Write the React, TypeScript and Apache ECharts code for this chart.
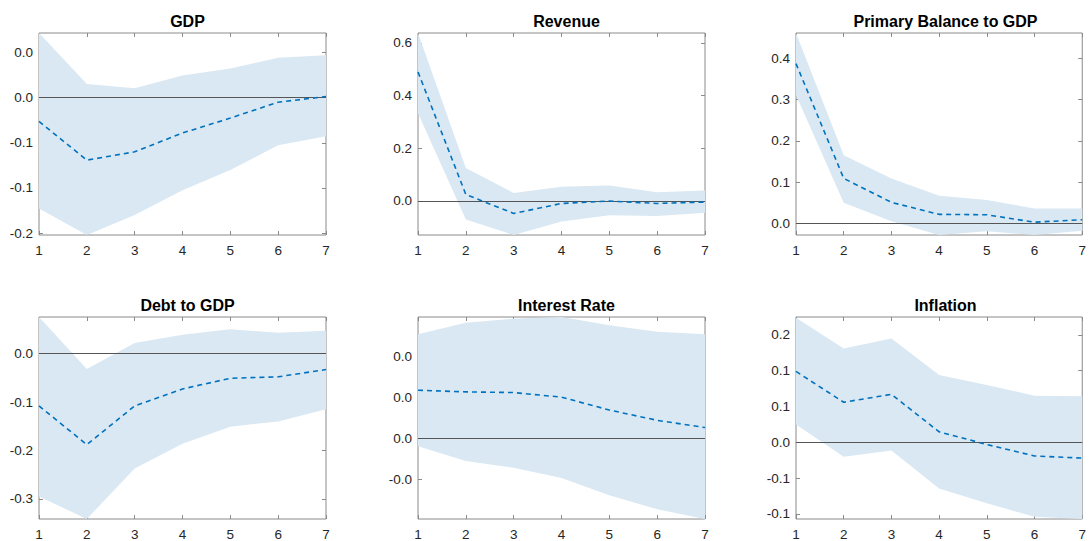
import React, { useEffect, useRef } from "react";
import * as echarts from "echarts";

const horizons = [1, 2, 3, 4, 5, 6, 7];
const titles = ["GDP", "Revenue", "Primary Balance to GDP", "Debt to GDP", "Interest Rate", "Inflation"];

const gdpMean = [-0.0264, -0.0692, -0.060, -0.0392, -0.0227, -0.0051, 0.0011];
const gdpUpper = [0.0714, 0.015, 0.0103, 0.0245, 0.0322, 0.044, 0.0469];
const gdpLower = [-0.1227, -0.152, -0.130, -0.1026, -0.080, -0.0527, -0.0429];

const revMean = [0.49, 0.024, -0.048, -0.01, -0.001, -0.01, -0.005];
const revUpper = [0.638, 0.125, 0.03, 0.053, 0.058, 0.033, 0.039];
const revLower = [0.333, -0.071, -0.13, -0.079, -0.055, -0.058, -0.045];

const pbMean = [0.387, 0.109, 0.051, 0.022, 0.021, 0.003, 0.009];
const pbUpper = [0.461, 0.165, 0.109, 0.067, 0.057, 0.036, 0.036];
const pbLower = [0.311, 0.05, 0.005, -0.028, -0.019, -0.028, -0.018];

const debtMean = [-0.108, -0.188, -0.108, -0.073, -0.051, -0.048, -0.033];
const debtUpper = [0.0755, -0.032, 0.022, 0.039, 0.05, 0.043, 0.047];
const debtLower = [-0.295, -0.3415, -0.237, -0.186, -0.151, -0.14, -0.115];

const irMean = [0.01167, 0.01126, 0.0111, 0.00998, 0.00684, 0.00434, 0.00257];
const irUpper = [0.0253, 0.0281, 0.0291, 0.0295, 0.0275, 0.0259, 0.0253];
const irLower = [-0.002, -0.0056, -0.0072, -0.0097, -0.0139, -0.0173, -0.0197];

const infMean = [0.099, 0.056, 0.067, 0.0147, -0.003, -0.019, -0.022];
const infUpper = [0.174, 0.131, 0.145, 0.094, 0.08, 0.065, 0.0645];
const infLower = [0.025, -0.02, -0.0115, -0.0645, -0.085, -0.104, -0.107];

const yRanges = [
  [-0.152, 0.0714],
  [-0.13, 0.638],
  [-0.028, 0.461],
  [-0.3415, 0.0755],
  [-0.0197, 0.0295],
  [-0.107, 0.175],
];

const gdpTicks = [-0.15, -0.1, -0.05, 0, 0.05];
const gdpTickLabels = ["-0.2", "-0.1", "-0.1", "0.0", "0.0"];
const revTicks = [0, 0.2, 0.4, 0.6];
const revTickLabels = ["0.0", "0.2", "0.4", "0.6"];
const pbTicks = [0, 0.1, 0.2, 0.3, 0.4];
const pbTickLabels = ["0.0", "0.1", "0.2", "0.3", "0.4"];
const debtTicks = [-0.3, -0.2, -0.1, 0];
const debtTickLabels = ["-0.3", "-0.2", "-0.1", "0.0"];
const irTicks = [-0.01, 0, 0.01, 0.02];
const irTickLabels = ["-0.0", "0.0", "0.0", "0.0"];
const infTicks = [-0.1, -0.05, 0, 0.05, 0.1, 0.15];
const infTickLabels = ["-0.1", "-0.1", "0.0", "0.1", "0.1", "0.2"];

const xTickLabels = ["1", "2", "3", "4", "5", "6", "7"];

const panels = [
  { mean: gdpMean, upper: gdpUpper, lower: gdpLower, ticks: gdpTicks, labels: gdpTickLabels },
  { mean: revMean, upper: revUpper, lower: revLower, ticks: revTicks, labels: revTickLabels },
  { mean: pbMean, upper: pbUpper, lower: pbLower, ticks: pbTicks, labels: pbTickLabels },
  { mean: debtMean, upper: debtUpper, lower: debtLower, ticks: debtTicks, labels: debtTickLabels },
  { mean: irMean, upper: irUpper, lower: irLower, ticks: irTicks, labels: irTickLabels },
  { mean: infMean, upper: infUpper, lower: infLower, ticks: infTicks, labels: infTickLabels },
];

const colLefts = [39, 418, 796];
const colWidths = [287, 287, 289];
const rowTops = [33, 317];
const rowHeights = [202, 204];

const BOX = "#8a8a8a";
const TEXT = "#262626";
const FONT = "'Liberation Sans', Arial, Helvetica, sans-serif";

export default function App() {
  const ref = useRef<HTMLDivElement>(null);

  useEffect(() => {
    if (!ref.current) return;
    const chart = echarts.init(ref.current, null, { renderer: "svg" });

    const grids: any[] = [];
    const xAxes: any[] = [];
    const yAxes: any[] = [];
    const series: any[] = [];
    const titleOpts: any[] = [];

    panels.forEach((p, i) => {
      const col = i % 3;
      const row = Math.floor(i / 3);
      const left = colLefts[col];
      const top = rowTops[row];
      const width = colWidths[col];
      const height = rowHeights[row];
      grids.push({
        left,
        top,
        width,
        height,
        show: true,
        borderColor: BOX,
        borderWidth: 1,
        backgroundColor: "transparent",
        containLabel: false,
      });
      titleOpts.push({
        text: titles[i],
        left: left + width / 2,
        top: top - 25,
        textAlign: "center",
        textStyle: { fontFamily: FONT, fontSize: 16, fontWeight: "bold", color: "#000" },
      });
      const [ymin, ymax] = yRanges[i];
      const labelMap = (v: number) => {
        const k = p.ticks.findIndex((t) => Math.abs(t - v) < 1e-9);
        return k >= 0 ? p.labels[k] : "";
      };
      const tickStyle = { show: true, inside: true, length: 4, lineStyle: { color: BOX } };
      // bottom x axis
      xAxes.push({
        type: "value",
        gridIndex: i,
        position: "bottom",
        min: 1,
        max: 7,
        interval: 1,
        axisLine: { show: false, onZero: false },
        axisTick: tickStyle,
        axisLabel: {
          show: true,
          margin: 8,
          color: TEXT,
          fontFamily: FONT,
          fontSize: 13.5,
          formatter: (v: number) => xTickLabels[Math.round(v) - 1] ?? "",
        },
        splitLine: { show: false },
      });
      // top mirror x axis
      xAxes.push({
        type: "value",
        gridIndex: i,
        position: "top",
        min: 1,
        max: 7,
        interval: 1,
        axisLine: { show: false, onZero: false },
        axisTick: tickStyle,
        axisLabel: { show: false },
        splitLine: { show: false },
      });
      yAxes.push({
        type: "value",
        gridIndex: i,
        position: "left",
        min: ymin,
        max: ymax,
        axisLine: { show: false, onZero: false },
        axisTick: { ...tickStyle, customValues: p.ticks },
        axisLabel: {
          show: true,
          margin: 6,
          color: TEXT,
          fontFamily: FONT,
          fontSize: 13.5,
          customValues: p.ticks,
          formatter: labelMap,
        },
        splitLine: { show: false },
      });
      yAxes.push({
        type: "value",
        gridIndex: i,
        position: "right",
        min: ymin,
        max: ymax,
        axisLine: { show: false, onZero: false },
        axisTick: { ...tickStyle, customValues: p.ticks },
        axisLabel: { show: false, customValues: p.ticks },
        splitLine: { show: false },
      });

      const xIdx = i * 2;
      const yIdx = i * 2;
      const bandData = horizons.map((h, k) => [h, p.lower[k], p.upper[k]]);
      series.push({
        type: "custom",
        xAxisIndex: xIdx,
        yAxisIndex: yIdx,
        z: 1,
        silent: true,
        data: bandData,
        encode: { x: 0, y: [1, 2] },
        renderItem: (params: any, api: any) => {
          if (params.dataIndex !== 0) return null;
          const pts: number[][] = [];
          horizons.forEach((h, k) => pts.push(api.coord([h, p.upper[k]])));
          for (let k = horizons.length - 1; k >= 0; k--) pts.push(api.coord([horizons[k], p.lower[k]]));
          return {
            type: "polygon",
            shape: { points: pts },
            style: { fill: "#d9e8f3", stroke: "none" },
          };
        },
      });
      series.push({
        type: "line",
        xAxisIndex: xIdx,
        yAxisIndex: yIdx,
        z: 3,
        silent: true,
        symbol: "none",
        data: horizons.map((h, k) => [h, p.mean[k]]),
        lineStyle: { color: "#0072bd", width: 1.6, type: [5, 4] },
        markLine: {
          silent: true,
          symbol: "none",
          z: 2,
          label: { show: false },
          lineStyle: { color: "#555555", type: "solid", width: 1.2 },
          data: [{ yAxis: 0 }],
        },
      });
    });

    chart.setOption({
      animation: false,
      backgroundColor: "#ffffff",
      title: titleOpts,
      grid: grids,
      xAxis: xAxes,
      yAxis: yAxes,
      series,
    });

    return () => chart.dispose();
  }, []);

  return (
    <div
      ref={ref}
      style={{ position: "absolute", left: 0, top: 0, width: 1089, height: 541 }}
    />
  );
}
